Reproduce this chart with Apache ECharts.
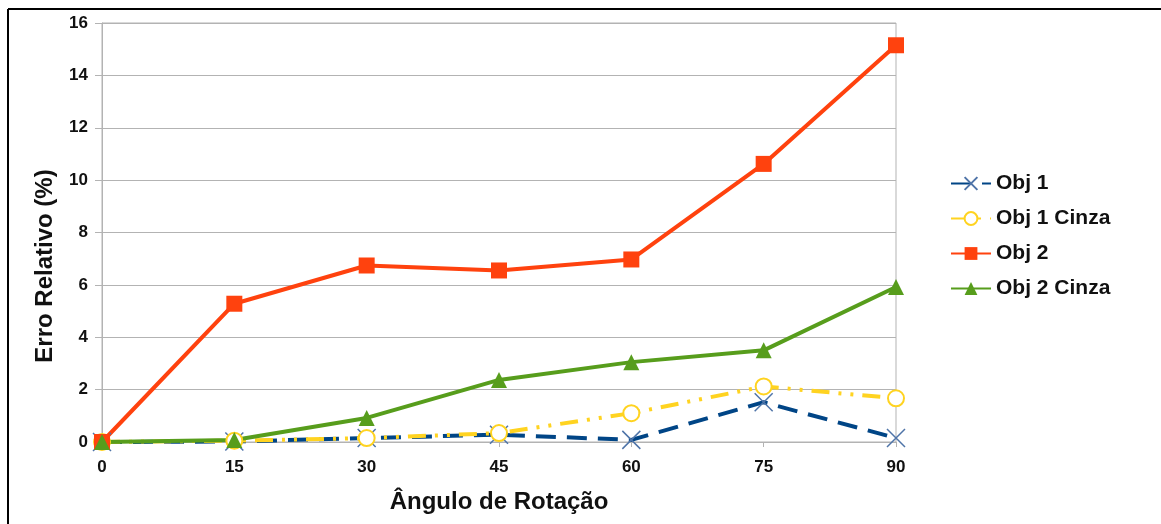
<!DOCTYPE html>
<html>
<head>
<meta charset="utf-8">
<script src="https://cdn.jsdelivr.net/npm/echarts@6/dist/echarts.min.js"></script>
<style>
  html, body { margin: 0; padding: 0; background: #fff; }
  #chart { width: 1161px; height: 524px; }
</style>
</head>
<body>
<div id="chart"></div>
<script>
// Rotation angles (degrees) and relative error (%) per object
const angles = [0, 15, 30, 45, 60, 75, 90];
const obj1 = [0, 0.02, 0.15, 0.28, 0.08, 1.52, 0.15];
const obj1Cinza = [0, 0.05, 0.15, 0.34, 1.1, 2.12, 1.67];
const obj2 = [0, 5.28, 6.74, 6.55, 6.97, 10.62, 15.15];
const obj2Cinza = [0, 0.08, 0.92, 2.37, 3.05, 3.5, 5.92];
const yTicks = [0, 2, 4, 6, 8, 10, 12, 14, 16];

const FONT = '"Liberation Sans", Arial, sans-serif';
const pairs = arr => angles.map((a, i) => [a, arr[i]]);

const chart = echarts.init(document.getElementById('chart'));
chart.setOption({
  backgroundColor: '#ffffff',
  animation: false,
  textStyle: { fontFamily: FONT },
  grid: {
    left: 102, right: 265, top: 23, bottom: 82,
    containLabel: false, outerBoundsMode: 'none',
    show: true, borderColor: '#b3b3b3', borderWidth: 1
  },
  legend: {
    orient: 'vertical',
    left: 945, top: 166,
    itemWidth: 40, itemHeight: 16, itemGap: 10,
    textStyle: { fontFamily: FONT, fontSize: 21, fontWeight: 'bold', color: '#111', lineHeight: 25 },
    data: ['Obj 1', 'Obj 1 Cinza', 'Obj 2', 'Obj 2 Cinza']
  },
  xAxis: {
    type: 'value', min: 0, max: 90, interval: 15,
    name: 'Ângulo de Rotação', nameLocation: 'middle', nameGap: 48,
    nameTextStyle: { fontFamily: FONT, fontSize: 24, fontWeight: 'bold', color: '#111' },
    axisLine: { show: true, lineStyle: { color: '#b3b3b3', width: 1 } },
    axisTick: { show: true, length: 5, lineStyle: { color: '#b3b3b3' } },
    axisLabel: { margin: 17, fontFamily: FONT, fontSize: 17, fontWeight: 'bold', color: '#111' },
    splitLine: { show: false }
  },
  yAxis: {
    type: 'value', min: yTicks[0], max: yTicks[yTicks.length - 1], interval: 2,
    axisLine: { show: true, lineStyle: { color: '#b3b3b3', width: 1 } },
    axisTick: { show: true, length: 7, lineStyle: { color: '#b3b3b3' } },
    axisLabel: { margin: 14, fontFamily: FONT, fontSize: 17, fontWeight: 'bold', color: '#111' },
    splitLine: { show: true, lineStyle: { color: '#b3b3b3', width: 1 } }
  },
  graphic: [
    {
      type: 'text', x: 45, y: 266, rotation: Math.PI / 2,
      style: {
        text: 'Erro Relativo (%)', fontFamily: FONT, fontSize: 24, fontWeight: 'bold',
        fill: '#111', align: 'center', verticalAlign: 'middle'
      }
    },
    { type: 'line', shape: { x1: 8, y1: 9, x2: 1161, y2: 9 }, style: { stroke: '#000', lineWidth: 2 } },
    { type: 'line', shape: { x1: 8, y1: 9, x2: 8, y2: 524 }, style: { stroke: '#000', lineWidth: 2 } }
  ],
  series: [
    {
      name: 'Obj 1', type: 'line', data: pairs(obj1),
      symbol: 'path://M0,0L10,10M10,0L0,10', symbolSize: 18,
      itemStyle: { color: '#004586', borderColor: '#4f74a8', borderWidth: 1.5 },
      lineStyle: { color: '#004586', width: 4, type: [20, 11] }
    },
    {
      name: 'Obj 1 Cinza', type: 'line', data: pairs(obj1Cinza),
      symbol: 'emptyCircle', symbolSize: 16,
      itemStyle: { color: '#ffd320', borderColor: '#ffd320', borderWidth: 1.2 },
      lineStyle: { color: '#ffd320', width: 4, type: [18, 9, 3, 9, 3, 9] }
    },
    {
      name: 'Obj 2', type: 'line', data: pairs(obj2),
      symbol: 'rect', symbolSize: 16,
      itemStyle: { color: '#ff420e' },
      lineStyle: { color: '#ff420e', width: 4 }
    },
    {
      name: 'Obj 2 Cinza', type: 'line', data: pairs(obj2Cinza),
      symbol: 'triangle', symbolSize: 16,
      itemStyle: { color: '#579d1c' },
      lineStyle: { color: '#579d1c', width: 4 }
    }
  ]
});
</script>
</body>
</html>
